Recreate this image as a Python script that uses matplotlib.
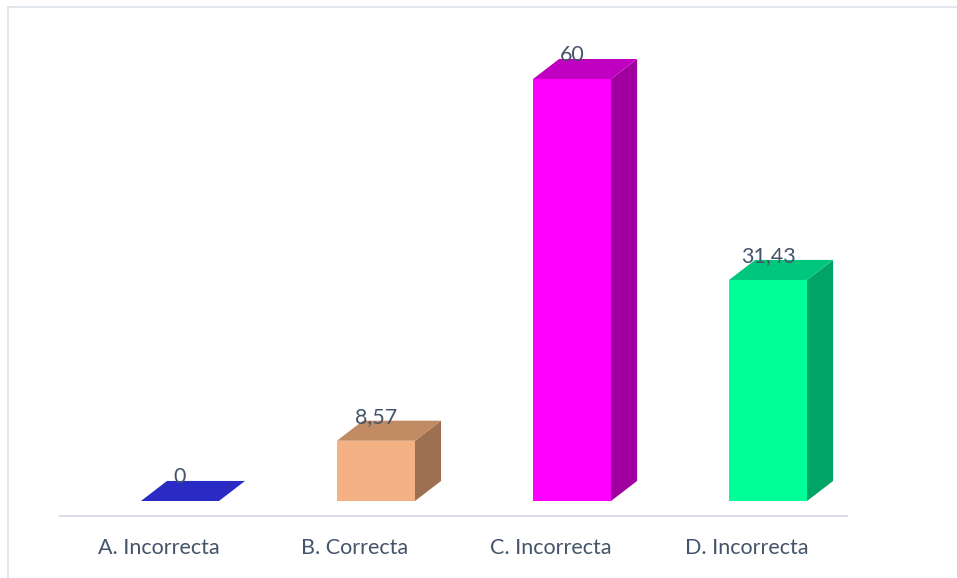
import numpy as np
import matplotlib.pyplot as plt
from matplotlib.patches import Polygon
from matplotlib.lines import Line2D

# Data
categories = ["A. Incorrecta", "B. Correcta", "C. Incorrecta", "D. Incorrecta"]
values = [0, 8.57, 60, 31.43]
value_labels = ["0", "8,57", "60", "31,43"]

# face colours: front, side, top
front_colors = ["#2a2bc4", "#f4b183", "#ff00ff", "#00ff99"]
side_colors = ["#1d1e8c", "#9c7050", "#a000a0", "#00a566"]
top_colors = ["#2a2bc4", "#c08a63", "#c000c0", "#00c77c"]

text_color = "#44546a"
plt.rcParams["font.family"] = ["Lato", "DejaVu Sans"]

fig = plt.figure(figsize=(9.57, 5.78), dpi=100)
ax = fig.add_axes([0, 0, 1, 1])
ax.set_xlim(-0.918, 3.964)
ax.set_ylim(-10.95, 71.24)
ax.axis("off")

x = np.arange(len(categories))
width = 0.398
dx, dy = 0.133, 2.85  # depth offset of the 3D boxes

# front faces
ax.bar(x, values, width=width, color=front_colors, linewidth=0, zorder=2)

for xi, v, sc, tc in zip(x, values, side_colors, top_colors):
    x0, x1 = xi - width / 2, xi + width / 2
    side = Polygon([(x1, 0), (x1 + dx, dy), (x1 + dx, v + dy), (x1, v)],
                   closed=True, facecolor=sc, edgecolor="none", zorder=2)
    top = Polygon([(x0, v), (x1, v), (x1 + dx, v + dy), (x0 + dx, v + dy)],
                  closed=True, facecolor=tc, edgecolor="none", zorder=3)
    ax.add_patch(side)
    ax.add_patch(top)

# value labels
for xi, v, lab in zip(x, values, value_labels):
    ax.annotate(lab, (xi, v), xytext=(0, 10), textcoords="offset points",
                ha="center", va="bottom", fontsize=15.5, color=text_color, zorder=5)

# baseline and category labels (category axis sits in front of the boxes)
ax.add_line(Line2D([-0.612, 3.403], [-2.13, -2.13], color="#d9dee5", lw=1.5))
for xi, cat in zip(x, categories):
    ax.text(xi - 0.107, -6.7, cat, ha="center", va="center", fontsize=15.5, color=text_color)

# chart border (top and left edges)
fig.add_artist(Line2D([8 / 957, 1], [1 - 7 / 578, 1 - 7 / 578], color="#dde2ea", lw=1.2))
fig.add_artist(Line2D([8 / 957, 8 / 957], [0, 1 - 7 / 578], color="#dde2ea", lw=1.2))

fig.savefig("out.png", dpi=100)
